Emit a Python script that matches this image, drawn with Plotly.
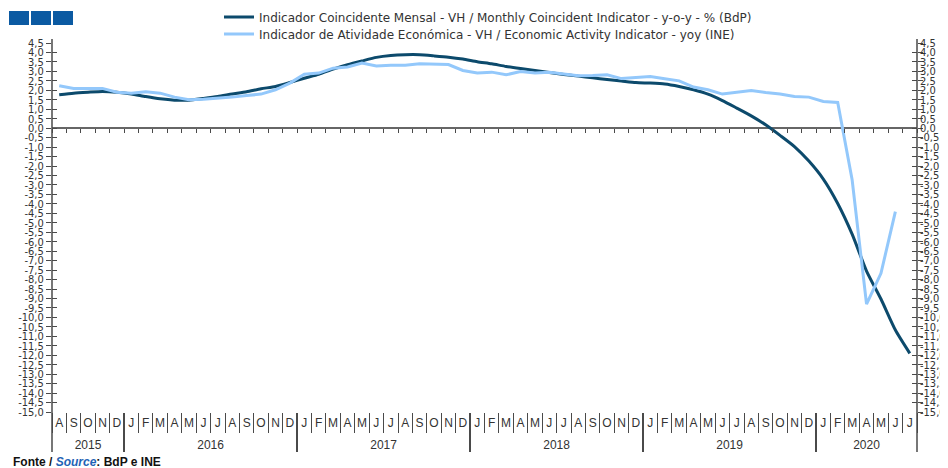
import plotly.graph_objects as go

# ---------------- data ----------------
years = ["2015", "2016", "2017", "2018", "2019", "2020"]
months_per_year = [5, 12, 12, 12, 12, 7]
month_letters = ["J", "F", "M", "A", "M", "J", "J", "A", "S", "O", "N", "D"]
month_labels = month_letters[7:] + month_letters * 4 + month_letters[:7]

coincident_bdp = [
    1.76, 1.85, 1.90, 1.94, 1.90,
    1.81, 1.67, 1.55, 1.48, 1.48, 1.57, 1.67, 1.80, 1.92, 2.08, 2.20, 2.41,
    2.64, 2.85, 3.12, 3.35, 3.55, 3.74, 3.84, 3.88, 3.88, 3.82, 3.75, 3.65,
    3.51, 3.40, 3.26, 3.15, 3.05, 2.94, 2.84, 2.75, 2.66, 2.57, 2.49, 2.41,
    2.38, 2.33, 2.20, 2.03, 1.80, 1.46, 1.06, 0.65, 0.18, -0.38, -0.97, -1.74,
    -2.69, -3.98, -5.60, -7.55, -9.03, -10.67, -11.90,
]
activity_ine = [
    2.24, 2.10, 2.10, 2.10, 1.90,
    1.85, 1.92, 1.85, 1.64, 1.50, 1.53, 1.57, 1.64, 1.72, 1.80, 2.03, 2.38,
    2.85, 2.91, 3.17, 3.23, 3.44, 3.29, 3.33, 3.33, 3.40, 3.40, 3.36, 3.05,
    2.91, 2.96, 2.82, 2.99, 2.91, 2.96, 2.85, 2.77, 2.78, 2.82, 2.62, 2.68,
    2.73, 2.61, 2.50, 2.17, 2.03, 1.80, 1.90, 1.99, 1.88, 1.81, 1.67, 1.64,
    1.41, 1.36, -2.73, -9.30, -7.67, -4.41, None,
]
y_ticks = [v / 2 for v in range(-30, 10)]
y_ticktext = [f"{v:.1f}".replace(".", ",") for v in y_ticks]

name_bdp = "Indicador Coincidente Mensal - VH / Monthly Coincident Indicator - y-o-y - % (BdP)"
name_ine = "Indicador de Atividade Económica - VH / Economic Activity Indicator - yoy (INE)"

# ---------------- derived positions (axis helpers) ----------------
n = len(month_labels)
idx = list(range(n))
month_bounds = [i - 0.5 for i in range(n + 1)]
year_starts = [sum(months_per_year[:k]) for k in range(len(years))]
year_centers = [s + m / 2 - 0.5 for s, m in zip(year_starts, months_per_year)]
year_bounds = [s - 0.5 for s in year_starts[1:]]

# ---------------- layout geometry (screen pixels; page body adds an 8px offset) ----------------
OFF = 8
W, H = 948 - OFF, 468 - OFF
SL, SR, ST, SPB = 52, 917, 43, 455      # plot area on screen (incl. label band)
AX_BOTTOM = 412                         # screen pixel of y = -15
pw, ph = SR - SL, SPB - ST
def px(x):
    return (x - SL) / pw
def py(y):
    return (SPB - y) / ph

y_dom0 = py(AX_BOTTOM)
zero_pos = y_dom0 + (1 - y_dom0) * (15 / 19.5)

axis_col = "#4a4a4a"
ylab_font = dict(family="Liberation Sans Narrow, DejaVu Sans Condensed, Liberation Sans", size=11, color="#333333")
xlab_font = dict(family="Liberation Sans", size=12, color="#333333")
leg_font = dict(family="DejaVu Sans", size=12, color="#333333")

fig = go.Figure()
fig.add_trace(go.Scatter(x=idx, y=coincident_bdp, name=name_bdp, mode="lines",
                         line=dict(color="#0c4a6c", width=3, shape="spline", smoothing=0.6),
                         xaxis="x", yaxis="y", legend="legend"))
fig.add_trace(go.Scatter(x=idx, y=activity_ine, name=name_ine, mode="lines",
                         line=dict(color="#93c8fb", width=3),
                         xaxis="x", yaxis="y2", legend="legend2"))
# helper traces so the overlay axes are drawn
for ax in ("x2", "x3", "x4", "x5"):
    fig.add_trace(go.Scatter(x=[0], y=[0], mode="markers", marker=dict(opacity=0), showlegend=False,
                             hoverinfo="skip", xaxis=ax, yaxis="y"))

common_x = dict(type="linear", range=[-0.5, n - 0.5], showgrid=False, zeroline=False, showline=False)

fig.update_layout(
    width=W, height=H,
    margin=dict(l=SL - OFF, r=W - (SR - OFF), t=ST - OFF, b=H - (SPB - OFF), autoexpand=False),
    paper_bgcolor="white", plot_bgcolor="white",
    font=dict(family="Liberation Sans", size=11, color="#333333"),
    showlegend=True,
    legend=dict(x=px(219), y=py(17), xanchor="left", yanchor="middle",
                font=leg_font, bgcolor="rgba(0,0,0,0)"),
    legend2=dict(x=px(219), y=py(34), xanchor="left", yanchor="middle",
                 font=leg_font, bgcolor="rgba(0,0,0,0)"),
    # month letters
    xaxis=dict(**common_x, anchor="y", tickvals=idx, ticktext=month_labels, ticks="",
               tickfont=xlab_font, ticklabelstandoff=2),
    # small ticks on the zero line
    xaxis2=dict(**common_x, overlaying="x", anchor="free", position=zero_pos, side="bottom",
                tickvals=month_bounds, ticks="outside", ticklen=4, tickcolor=axis_col,
                tickwidth=1, showticklabels=False),
    # month separators
    xaxis3=dict(**common_x, overlaying="x", anchor="y", side="bottom",
                tickvals=month_bounds, ticks="outside", ticklen=20, tickcolor=axis_col,
                tickwidth=1, showticklabels=False),
    # year labels
    xaxis4=dict(**common_x, overlaying="x", anchor="free", position=py(436), side="bottom",
                tickvals=year_centers, ticktext=years, ticks="", tickfont=xlab_font),
    # year separators
    xaxis5=dict(**common_x, overlaying="x", anchor="y", side="bottom",
                tickvals=year_bounds, ticks="outside", ticklen=39, tickcolor=axis_col,
                tickwidth=1.5, showticklabels=False),
    yaxis=dict(domain=[y_dom0, 1], range=[-15, 4.5], tickvals=y_ticks, ticktext=y_ticktext,
               ticks="outside", ticklen=5, tickcolor=axis_col, mirror="ticks", showline=False,
               showgrid=False, zeroline=True, zerolinecolor="#666666", zerolinewidth=1.5,
               tickfont=ylab_font),
    yaxis2=dict(range=[-15, 4.5], tickvals=y_ticks, ticktext=y_ticktext, ticks="inside",
                ticklen=5, tickcolor=axis_col, mirror="ticks", overlaying="y", side="right",
                showline=False, showgrid=False, zeroline=False, tickfont=ylab_font,
                ticklabelstandoff=2),
)

shapes = []
# vertical axis lines (extend into the label band)
for xp in (0, 1):
    shapes.append(dict(type="line", xref="paper", yref="paper", x0=xp, x1=xp,
                       y0=py(452), y1=py(39), line=dict(color=axis_col, width=1.5)))
# logo squares
for x0, x1 in ((9, 29), (31, 51), (53, 73)):
    shapes.append(dict(type="rect", xref="paper", yref="paper", x0=px(x0), x1=px(x1),
                       y0=py(25), y1=py(11), fillcolor="#0b5aa2", line=dict(width=0)))
fig.update_layout(shapes=shapes)

fig.add_annotation(xref="paper", yref="paper", x=px(11), y=py(462), xanchor="left", yanchor="middle",
                   showarrow=False, align="left",
                   text="<b>Fonte / <i><span style='color:#1f63b5'>Source</span></i>: BdP e INE</b>",
                   font=dict(family="Liberation Sans", size=12, color="#111111"))

fig.write_html("out.html")
